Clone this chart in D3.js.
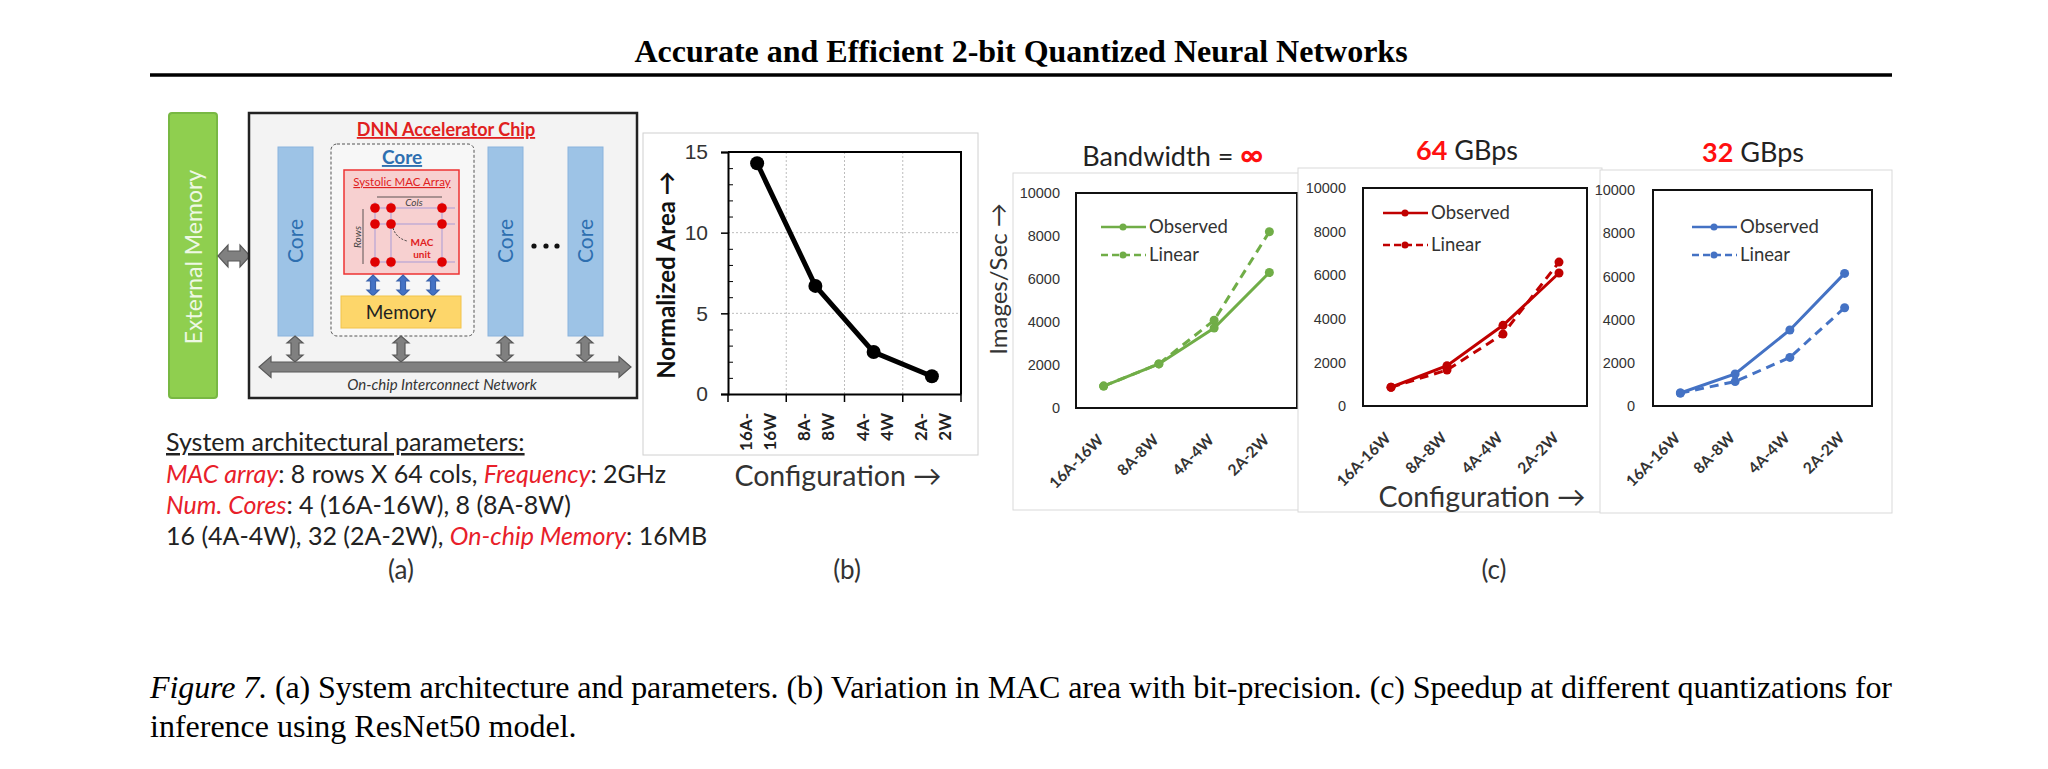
<!DOCTYPE html>
<meta charset="utf-8">
<head>
  <title>Figure 7: system, MAC area and speedup</title>
</head>

<style>
body { margin: 0; background: #fff; }
svg {
  font-family: Lato, "Open Sans", sans-serif;
  fill: #262626;
}
.serif { font-family: "Liberation Serif", "Times New Roman", serif; }
</style>

<body>
<svg width="2048" height="769"></svg>

<script src="https://d3js.org/d3.v7.min.js"></script>
<script>
// ---- data ----
var configs = ["16A-16W", "8A-8W", "4A-4W", "2A-2W"];
var coreCounts = [4, 8, 16, 32];
var normArea = [14.3, 6.7, 2.6, 1.1];
var areaTicks = [0, 5, 10, 15];
var speedTicks = [0, 2000, 4000, 6000, 8000, 10000];
var obsInf = [1020, 2050, 3720, 6300];
var linInf = [1020, 2050, 4080, 8200];
var obs64 = [860, 1850, 3700, 6100];
var lin64 = [860, 1650, 3300, 6600];
var obs32 = [600, 1480, 3520, 6140];
var lin32 = [600, 1130, 2250, 4550];
var seriesNames = ["Observed", "Linear"];

var svg = d3.select("svg");
var RED = "#e8202a";

// ---- page title and rule ----
svg.append("text").attr("class", "serif")
  .attr("x", 1021).attr("y", 62)
  .attr("text-anchor", "middle")
  .style("font-size", "32px").style("font-weight", "bold")
  .attr("fill", "#000")
  .text("Accurate and Efficient 2-bit Quantized Neural Networks");

svg.append("line")
  .attr("x1", 150).attr("x2", 1892).attr("y1", 75).attr("y2", 75)
  .attr("stroke", "#000").attr("stroke-width", 3.5);

// ---- helpers ----
function hArrow(g, x0, x1, yc, shaft, head, hl, fill, stroke) {
  var s = shaft / 2, h = head / 2;
  var pts = [[x0, yc], [x0 + hl, yc - h], [x0 + hl, yc - s], [x1 - hl, yc - s], [x1 - hl, yc - h],
             [x1, yc], [x1 - hl, yc + h], [x1 - hl, yc + s], [x0 + hl, yc + s], [x0 + hl, yc + h]];
  g.append("path").attr("d", d3.line()(pts) + "Z")
    .attr("fill", fill).attr("stroke", stroke).attr("stroke-width", 1.2);
}
function vArrow(g, xc, y0, y1, shaft, head, hl, fill, stroke) {
  var s = shaft / 2, h = head / 2;
  var pts = [[xc, y0], [xc + h, y0 + hl], [xc + s, y0 + hl], [xc + s, y1 - hl], [xc + h, y1 - hl],
             [xc, y1], [xc - h, y1 - hl], [xc - s, y1 - hl], [xc - s, y0 + hl], [xc - h, y0 + hl]];
  g.append("path").attr("d", d3.line()(pts) + "Z")
    .attr("fill", fill).attr("stroke", stroke).attr("stroke-width", 1.2);
}
function rotText(g, x, y, txt, size, color, weight) {
  return g.append("text")
    .attr("transform", "translate(" + x + "," + y + ") rotate(-90)")
    .attr("text-anchor", "middle").attr("dy", "0.35em")
    .style("font-size", size + "px").style("font-weight", weight || "normal")
    .attr("fill", color).text(txt);
}

// ================= (a) architecture diagram =================
var ga = svg.append("g");

ga.append("rect").attr("x", 169).attr("y", 113).attr("width", 48).attr("height", 285)
  .attr("rx", 3).attr("fill", "#8fcf4f").attr("stroke", "#78b843").attr("stroke-width", 2);
rotText(ga, 194, 257, "External Memory", 23, "#eef8e4");

hArrow(ga, 218, 250, 256, 10, 22, 10, "#808080", "#595959");

ga.append("rect").attr("x", 249).attr("y", 113).attr("width", 388).attr("height", 285)
  .attr("fill", "#f3f3f3").attr("stroke", "#222").attr("stroke-width", 2.5);

ga.append("text").attr("x", 446).attr("y", 136).attr("text-anchor", "middle")
  .style("font-size", "18px").style("font-weight", "bold")
  .style("text-decoration", "underline").attr("fill", "#e02020")
  .text("DNN Accelerator Chip");

// simple cores
[278, 488, 568].forEach(function(x) {
  ga.append("rect").attr("x", x).attr("y", 147).attr("width", 35).attr("height", 189)
    .attr("fill", "#9dc3e6").attr("stroke", "#8ab3dd");
  rotText(ga, x + 17.5, 241, "Core", 21, "#2e6fb0");
});

[534, 546, 557].forEach(function(x) {
  ga.append("circle").attr("cx", x).attr("cy", 246).attr("r", 2.6).attr("fill", "#111");
});

// detailed core
ga.append("rect").attr("x", 331).attr("y", 144).attr("width", 143).attr("height", 192)
  .attr("rx", 6).attr("fill", "#f7f7f7")
  .attr("stroke", "#555").attr("stroke-dasharray", "3,2");
ga.append("text").attr("x", 402).attr("y", 164).attr("text-anchor", "middle")
  .style("font-size", "19px").style("font-weight", "bold")
  .style("text-decoration", "underline").attr("fill", "#2e6fb0").text("Core");

ga.append("rect").attr("x", 344).attr("y", 170).attr("width", 115).attr("height", 104)
  .attr("fill", "#f7d0d0").attr("stroke", "#e33").attr("stroke-width", 1.5);
ga.append("text").attr("x", 402).attr("y", 186).attr("text-anchor", "middle")
  .style("font-size", "11.5px").style("text-decoration", "underline")
  .attr("fill", "#e02020").text("Systolic MAC Array");

var macRows = [208, 224, 262], macCols = [375, 391, 442];
macRows.forEach(function(y) {
  ga.append("line").attr("x1", 370).attr("x2", 455).attr("y1", y).attr("y2", y)
    .attr("stroke", "#a99bd6").attr("stroke-width", 1);
});
macCols.forEach(function(x) {
  ga.append("line").attr("x1", x).attr("x2", x).attr("y1", 202).attr("y2", 268)
    .attr("stroke", "#a99bd6").attr("stroke-width", 1);
});
macRows.forEach(function(y) {
  macCols.forEach(function(x) {
    ga.append("circle").attr("cx", x).attr("cy", y).attr("r", 4.8).attr("fill", "#e00000");
  });
});
ga.append("line").attr("x1", 377).attr("x2", 442).attr("y1", 197).attr("y2", 197)
  .attr("stroke", "#333").attr("stroke-width", 0.8);
ga.append("text").attr("x", 414).attr("y", 206).attr("text-anchor", "middle")
  .style("font-size", "10px").style("font-style", "italic").attr("fill", "#444").text("Cols");
ga.append("line").attr("x1", 363).attr("x2", 363).attr("y1", 209).attr("y2", 264)
  .attr("stroke", "#333").attr("stroke-width", 0.8);
rotText(ga, 357, 237, "Rows", 10, "#444").style("font-style", "italic");
ga.append("path").attr("d", "M393,228 Q396,238 407,241")
  .attr("fill", "none").attr("stroke", "#333").attr("stroke-dasharray", "2,1.5");
ga.append("text").attr("x", 422).attr("y", 246).attr("text-anchor", "middle")
  .style("font-size", "10px").style("font-weight", "bold").attr("fill", "#e02020").text("MAC");
ga.append("text").attr("x", 422).attr("y", 258).attr("text-anchor", "middle")
  .style("font-size", "10px").style("font-weight", "bold").attr("fill", "#e02020").text("unit");

[373, 403, 433].forEach(function(x) {
  vArrow(ga, x, 275, 296, 5, 12, 6, "#4472c4", "#3a62ad");
});

ga.append("rect").attr("x", 341).attr("y", 296).attr("width", 120).attr("height", 32)
  .attr("fill", "#fdd66a").attr("stroke", "#f2c34a");
ga.append("text").attr("x", 401).attr("y", 319).attr("text-anchor", "middle")
  .style("font-size", "19px").attr("fill", "#222").text("Memory");

// interconnect
[295, 401, 505, 585].forEach(function(x) {
  vArrow(ga, x, 336, 362, 8, 16, 7, "#808080", "#595959");
});
hArrow(ga, 259, 631, 367, 10, 21, 12, "#808080", "#595959");
ga.append("text").attr("x", 442).attr("y", 390).attr("text-anchor", "middle")
  .style("font-size", "15px").style("font-style", "italic").attr("fill", "#333")
  .text("On-chip Interconnect Network");

// parameters text
var paramLines = [
  [["System architectural parameters:", "u"]],
  [["MAC array", "r"], [": 8 rows X 64 cols, ", ""], ["Frequency", "r"], [": 2GHz", ""]],
  [["Num. Cores", "r"], [": " + coreCounts[0] + " (" + configs[0] + "), " + coreCounts[1] + " (" + configs[1] + ")", ""]],
  [[coreCounts[2] + " (" + configs[2] + "), " + coreCounts[3] + " (" + configs[3] + "), ", ""], ["On-chip Memory", "r"], [": 16MB", ""]]
];
var paramY = [451, 483, 514, 545];
paramLines.forEach(function(parts, i) {
  var t = ga.append("text").attr("x", 166).attr("y", paramY[i])
    .style("font-size", "25px").attr("fill", "#222");
  parts.forEach(function(p) {
    var s = t.append("tspan").text(p[0]);
    if (p[1] === "r") s.attr("fill", RED).style("font-style", "italic");
    if (p[1] === "u") s.style("text-decoration", "underline");
  });
});

// ================= (b) normalized area =================
var gb = svg.append("g");
gb.append("rect").attr("x", 643).attr("y", 133).attr("width", 335).attr("height", 322)
  .attr("fill", "#fff").attr("stroke", "#d0d0d0");

var bx = d3.scaleBand().domain(configs).range([728, 961]);
var by = d3.scaleLinear().domain([0, 15]).range([394, 152]);

// grid
bx.domain().slice(1).forEach(function(c) {
  gb.append("line").attr("x1", bx(c)).attr("x2", bx(c)).attr("y1", 152).attr("y2", 394)
    .attr("stroke", "#bdbdbd").attr("stroke-dasharray", "2,2");
});
[5, 10].forEach(function(v) {
  gb.append("line").attr("x1", 728).attr("x2", 961).attr("y1", by(v)).attr("y2", by(v))
    .attr("stroke", "#bdbdbd").attr("stroke-dasharray", "2,2");
});

// minor ticks inside
gb.append("g").attr("transform", "translate(728,0)")
  .call(d3.axisRight(by).tickValues(d3.range(1, 15).filter(function(v) { return v % 5; }))
    .tickSize(5).tickFormat(""))
  .call(function(g) { g.select(".domain").remove(); g.selectAll("line").attr("stroke", "#000"); });

var bAxisY = gb.append("g").attr("transform", "translate(728,0)")
  .call(d3.axisLeft(by).tickValues(areaTicks).tickSize(7).tickPadding(13));
bAxisY.selectAll("text").style("font-size", "21px").attr("fill", "#333");

var bAxisX = gb.append("g").attr("transform", "translate(0,394)")
  .call(d3.axisBottom(bx).tickSize(0).tickFormat(""));
bAxisX.selectAll(".tick").remove();
d3.range(configs.length + 1).forEach(function(i) {
  var xx = 728 + i * bx.step();
  gb.append("line").attr("x1", xx).attr("x2", xx).attr("y1", 394).attr("y2", 402)
    .attr("stroke", "#000").attr("stroke-width", 1.5);
});
gb.selectAll(".domain").attr("stroke", "#000").attr("stroke-width", 2);
bAxisY.selectAll(".tick line").attr("stroke", "#000").attr("stroke-width", 1.5);

// frame top & right
gb.append("path").attr("d", "M728,152H961V394").attr("fill", "none")
  .attr("stroke", "#000").attr("stroke-width", 2);

configs.forEach(function(c) {
  var xc = bx(c) + bx.bandwidth() / 2;
  c.split(/(?<=-)/).forEach(function(part, j) {
    gb.append("text")
      .attr("transform", "translate(" + (xc - 11 + j * 24) + ",413) rotate(-90)")
      .attr("text-anchor", "end").attr("dy", "0.35em")
      .style("font-size", "17px").style("font-weight", "bold").attr("fill", "#222")
      .text(part);
  });
});

var bLine = d3.line()
  .x(function(d, i) { return bx(configs[i]) + bx.bandwidth() / 2; })
  .y(function(d) { return by(d); });
gb.append("path").datum(normArea).attr("d", bLine)
  .attr("fill", "none").attr("stroke", "#000").attr("stroke-width", 5);
gb.selectAll("circle.pt").data(normArea).enter().append("circle")
  .attr("cx", function(d, i) { return bx(configs[i]) + bx.bandwidth() / 2; })
  .attr("cy", function(d) { return by(d); })
  .attr("r", 7).attr("fill", "#000");

rotText(gb, 667, 275, "Normalized Area \u2192", 24, "#111", "bold");
gb.append("text").attr("x", 838).attr("y", 486).attr("text-anchor", "middle")
  .style("font-size", "28.5px").attr("fill", "#333").text("Configuration \u2192");

// ================= (c) speedup =================
var gc = svg.append("g");

function speedChart(o) {
  var g = gc.append("g");
  g.append("rect").attr("x", o.frame[0]).attr("y", o.frame[1])
    .attr("width", o.frame[2] - o.frame[0]).attr("height", o.frame[3] - o.frame[1])
    .attr("fill", "#fff").attr("stroke", "#d9d9d9");

  var x = d3.scaleBand().domain(configs).range([o.left, o.right]);
  var y = d3.scaleLinear().domain([0, 10000]).range([o.bottom, o.top]);
  var cx = function(i) { return x(configs[i]) + x.bandwidth() / 2; };

  var ax = g.append("g").attr("transform", "translate(" + o.left + ",0)")
    .call(d3.axisLeft(y).tickValues(speedTicks).tickSize(0).tickPadding(o.pad)
      .tickFormat(d3.format("d")));
  ax.select(".domain").remove();
  ax.selectAll("text").style("font-size", "14.5px").attr("fill", "#333");

  g.append("rect").attr("x", o.left).attr("y", o.top)
    .attr("width", o.right - o.left).attr("height", o.bottom - o.top)
    .attr("fill", "none").attr("stroke", "#111").attr("stroke-width", 2);

  configs.forEach(function(c, i) {
    g.append("text")
      .attr("transform", "translate(" + (cx(i) - 3) + "," + (o.bottom + 29) + ") rotate(-45)")
      .attr("text-anchor", "end").attr("dy", "0.35em")
      .style("font-size", "15.5px").style("font-weight", "bold").attr("fill", "#333")
      .text(c);
  });

  var line = d3.line().x(function(d, i) { return cx(i); }).y(function(d) { return y(d); });
  [o.lin, o.obs].forEach(function(vals, k) {
    var dashed = k === 0;
    g.append("path").datum(vals).attr("d", line)
      .attr("fill", "none").attr("stroke", o.color).attr("stroke-width", 3)
      .attr("stroke-dasharray", dashed ? "9,6" : null);
    g.selectAll(null).data(vals).enter().append("circle")
      .attr("cx", function(d, i) { return cx(i); })
      .attr("cy", function(d) { return y(d); })
      .attr("r", 4.5).attr("fill", o.color);
  });

  seriesNames.forEach(function(name, k) {
    var ly = o.legend[1] + k * o.legend[2];
    var lx = o.legend[0];
    g.append("line").attr("x1", lx).attr("x2", lx + 45).attr("y1", ly).attr("y2", ly)
      .attr("stroke", o.color).attr("stroke-width", 2.5)
      .attr("stroke-dasharray", k === 1 ? "7,4" : null);
    g.append("circle").attr("cx", lx + 22).attr("cy", ly).attr("r", 3.5).attr("fill", o.color);
    g.append("text").attr("x", lx + 48).attr("y", ly).attr("dy", "0.35em")
      .style("font-size", "18.5px").attr("fill", "#333").text(name);
  });

  var t = g.append("text").attr("x", o.titleX).attr("y", o.titleY)
    .attr("text-anchor", "middle").style("font-size", "27px").attr("fill", "#222");
  o.title.forEach(function(p) {
    var s = t.append("tspan").text(p[0]);
    if (p[1]) s.attr("fill", "#ff1010").style("font-weight", "bold");
    if (p[0] === "\u221E") s.style("font-size", "32px");
  });
}

speedChart({
  frame: [1013, 173, 1310, 510], left: 1076, right: 1297, top: 193, bottom: 408, pad: 16,
  obs: obsInf, lin: linInf, color: "#70ad47", legend: [1101, 227, 28],
  title: [["Bandwidth = ", false], ["\u221E", true]], titleX: 1173, titleY: 166
});
speedChart({
  frame: [1298, 168, 1602, 512], left: 1363, right: 1587, top: 188, bottom: 406, pad: 17,
  obs: obs64, lin: lin64, color: "#c00000", legend: [1383, 213, 32],
  title: [["64", true], [" GBps", false]], titleX: 1467, titleY: 160
});
speedChart({
  frame: [1600, 170, 1892, 513], left: 1653, right: 1872, top: 190, bottom: 406, pad: 18,
  obs: obs32, lin: lin32, color: "#4472c4", legend: [1692, 227, 28],
  title: [["32", true], [" GBps", false]], titleX: 1753, titleY: 162
});

rotText(gc, 999, 279, "Images/Sec \u2192", 24, "#333");
gc.append("text").attr("x", 1482).attr("y", 507).attr("text-anchor", "middle")
  .style("font-size", "28.5px").attr("fill", "#333").text("Configuration \u2192");

// ---- sub-figure labels ----
[["(a)", 401], ["(b)", 847], ["(c)", 1494]].forEach(function(l) {
  svg.append("text").attr("x", l[1]).attr("y", 579).attr("text-anchor", "middle")
    .style("font-size", "26px").attr("fill", "#333").text(l[0]);
});

// ---- caption ----
var cap1 = svg.append("text").attr("class", "serif").attr("x", 150).attr("y", 698)
  .style("font-size", "32px").attr("fill", "#000")
  .attr("textLength", 1742).attr("lengthAdjust", "spacing");
cap1.append("tspan").style("font-style", "italic").text("Figure 7.");
cap1.append("tspan").text(" (a) System architecture and parameters. (b) Variation in MAC area with bit-precision. (c) Speedup at different quantizations for");
svg.append("text").attr("class", "serif").attr("x", 150).attr("y", 737)
  .style("font-size", "32px").attr("fill", "#000")
  .text("inference using ResNet50 model.");
</script>
</body>
</html>
